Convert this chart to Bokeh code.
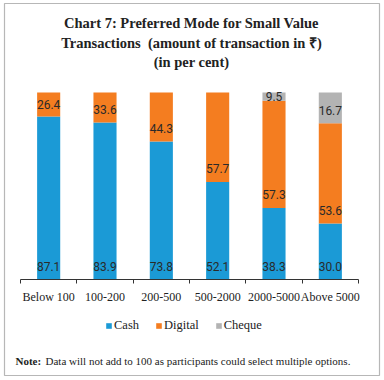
from bokeh.plotting import figure
from bokeh.models import (FixedTicker, Label, Legend, LegendItem, BoxAnnotation, Range1d)
from bokeh.core.properties import value
from bokeh.embed import file_html
from bokeh.resources import INLINE

# ---- data ----
categories = ["Below 100", "100-200", "200-500", "500-2000", "2000-5000", "Above 5000"]
cash = [87.1, 83.9, 73.8, 52.1, 38.3, 30.0]
digital = [26.4, 33.6, 44.3, 57.7, 57.3, 53.6]
cheque = [0.0, 0.0, 0.0, 0.0, 9.5, 16.7]
series_names = ["Cash", "Digital", "Cheque"]
colors = ["#1b9ad6", "#f47d20", "#b3b3b3"]
Y_MAX = 100.0

# layout geometry (canvas px): plot area
W, H = 384, 380
FL, FR, FT, FB = 20, 358, 92, 279
n = len(categories)
xpx = (FR - FL) / n          # px per category
ypx = (FB - FT) / Y_MAX      # px per unit

p = figure(width=W, height=H, output_backend="svg", toolbar_location=None,
           x_range=Range1d(-FL / xpx, n + (W - FR) / xpx),
           y_range=Range1d(-(H - FB) / ypx, Y_MAX + FT / ypx),
           min_border=0, margin=(0, 0, 0, 0))
p.outline_line_color = None
p.background_fill_color = "white"
p.border_fill_color = "white"
p.xgrid.visible = False
p.ygrid.visible = False
p.yaxis.visible = False

xs = [i + 0.5 for i in range(n)]

# stacked bars, clipped at the axis maximum (100)
renderers = []
label_x, label_y, label_t = [], [], []
bottoms = [0.0] * n
for name, vals, col in zip(series_names, (cash, digital, cheque), colors):
    bot = [min(b, Y_MAX) for b in bottoms]
    top = [min(b + v, Y_MAX) for b, v in zip(bottoms, vals)]
    r = p.vbar(x=xs, bottom=bot, top=top, width=0.41, color=col, line_color=None)
    renderers.append(r)
    for i, v in enumerate(vals):
        if v > 0:
            label_x.append(xs[i])
            label_y.append(min(bottoms[i] + 7.0, (bottoms[i] + Y_MAX) / 2))
            label_t.append(f"{v:.1f}")
    bottoms = [b + v for b, v in zip(bottoms, vals)]

p.text(x=label_x, y=label_y, text=label_t, text_align="center", text_baseline="middle",
       text_font=value("Roboto"), text_font_size="12px", text_color="#2a2a2a")

# x axis fixed at y = 0 inside the canvas
ax = p.xaxis[0]
ax.fixed_location = 0
ax.bounds = (0, n)
ax.ticker = FixedTicker(ticks=xs, minor_ticks=list(range(n + 1)))
ax.major_label_overrides = {x: c for x, c in zip(xs, categories)}
ax.major_tick_out = 0
ax.major_tick_in = 0
ax.minor_tick_out = 4
ax.minor_tick_in = 0
ax.minor_tick_line_color = "#333333"
ax.axis_line_color = "#333333"
ax.major_label_text_font = "Liberation Serif"
ax.major_label_text_font_size = "12px"
ax.major_label_text_color = "#222222"
ax.major_label_standoff = 6

def sx(px):
    return px

def sy(py):
    return H - py

# legend
legend = Legend(items=[LegendItem(label=nm, renderers=[r]) for nm, r in zip(series_names, renderers)],
                orientation="horizontal", location=(sx(105), sy(333)), glyph_width=7, glyph_height=7,
                label_standoff=2, spacing=16, padding=0, margin=0, label_height=14,
                label_text_font="Liberation Serif", label_text_font_size="12.5px",
                label_text_color="#222222", border_line_color=None,
                background_fill_alpha=0)
p.add_layout(legend, "center")

# title
for txt, yc in [("Chart 7: Preferred Mode for Small Value", 22),
                ("Transactions\u00a0\u00a0(amount of transaction in \u20b9)", 42),
                ("(in per cent)", 61)]:
    p.add_layout(Label(x=sx(191), y=sy(yc), x_units="screen", y_units="screen", text=txt,
                       text_align="center", text_baseline="middle",
                       text_font="Liberation Serif", text_font_style="bold",
                       text_font_size="14.5px", text_color="#222222"))

# note
p.add_layout(Label(x=sx(15), y=sy(360), x_units="screen", y_units="screen", text="Note:",
                   text_align="left", text_baseline="middle", text_font="Liberation Serif",
                   text_font_style="bold", text_font_size="11px", text_color="#222222"))
p.add_layout(Label(x=sx(45), y=sy(360), x_units="screen", y_units="screen",
                   text="Data will not add to 100 as participants could select multiple options.",
                   text_align="left", text_baseline="middle", text_font="Liberation Serif",
                   text_font_size="11px", text_color="#222222"))

# outer frame
p.add_layout(BoxAnnotation(left=sx(4), right=sx(379), top=sy(3), bottom=sy(375),
                           left_units="screen", right_units="screen", top_units="screen",
                           bottom_units="screen", fill_alpha=0, line_color="#111111",
                           line_width=1.2))

open("out.html", "w").write(file_html(p, INLINE))
